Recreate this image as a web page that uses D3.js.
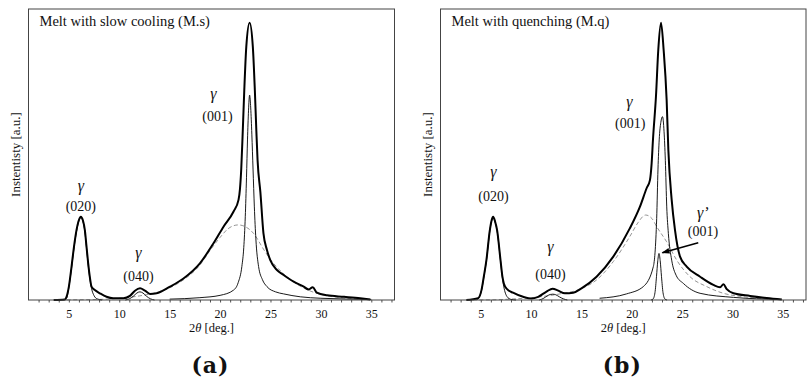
<!DOCTYPE html>
<html><head><meta charset="utf-8">
<script src="https://cdn.jsdelivr.net/npm/d3@7"></script>
<style>body{margin:0;background:#fff}svg{display:block}
text{font-family:"Liberation Serif","Times New Roman","DejaVu Serif",serif}</style>
</head><body>
<svg id="c" width="807" height="392"></svg>
<script>
const xTicks = [5,10,15,20,25,30,35];
const minorTicks = d3.range(2,38,1);

const A_total = [[3.5,0],[4.6,0.2],[4.77,1.1],[5.0,4.5],[5.27,11.5],[5.5,18],[5.76,24],[6.0,27.5],[6.19,28.6],[6.4,27.3],[6.59,24],[6.75,18.5],[6.92,12.6],[7.1,7.5],[7.25,4.6],[7.58,3.4],[8.08,2.3],[8.74,1.1],[9.4,0.6],[10.4,0.6],[11.06,1.4],[11.56,3.2],[12.06,4.0],[12.55,3.2],[13.05,2.1],[13.7,2.3],[15.04,4.6],[16.37,7.4],[18.0,12.6],[19.35,19.5],[20.34,25.2],[21.34,30.4],[21.83,34.4],[21.97,38],[22.1,45],[22.25,58],[22.4,72],[22.6,87],[22.93,95.3],[23.25,87],[23.45,72],[23.6,58],[23.72,48],[24.0,37],[24.3,23],[24.65,17.2],[24.98,13.7],[25.64,10.3],[26.3,8.6],[27.3,6.3],[28.3,4.6],[28.8,3.6],[29.19,4.4],[29.6,2.5],[30.6,1.6],[32.3,1.1],[33.9,0.6],[34.9,0.2]];
const A_peak001 = [[15,0.3],[18,0.8],[20,1.6],[21.34,3.4],[21.8,6],[22.16,11.5],[22.35,18],[22.5,28.6],[22.62,42],[22.72,55],[22.82,65],[22.93,70.4],[23.04,66],[23.15,57],[23.27,45],[23.4,32],[23.55,21],[23.82,11.5],[24.2,7],[24.65,4.6],[25.5,2.8],[26.3,2.1],[27.96,1.1],[30,0.6],[35,0.2]];
const A_amorph = [[3.5,0],[5,0.05],[8,0.2],[10,0.6],[12,1.4],[13.7,2.6],[15,4.2],[16.4,7.0],[18,12],[19,17],[20,21.5],[20.8,24.5],[21.8,25.8],[22.6,25],[23.32,22.9],[24.3,17.5],[24.98,14],[26.3,9],[27.6,5.5],[28.8,3.3],[30,1.9],[32,0.8],[34,0.3],[35,0.1]];
const A_peak020 = [[4.5,0],[4.8,0.8],[5.0,4.3],[5.27,11],[5.5,17.5],[5.76,23.5],[6.0,27.2],[6.19,28.3],[6.4,27],[6.59,23.5],[6.75,18],[6.92,12],[7.1,7],[7.25,4],[7.5,1.5],[7.8,0.4],[8.3,0]];
const A_peak040 = [[10.6,0],[11.0,0.4],[11.4,1.3],[11.75,2.4],[12.05,2.8],[12.35,2.4],[12.7,1.3],[13.1,0.4],[13.5,0]];

const B_total = [[3.57,0],[4.73,0.6],[5.07,3.4],[5.3,8],[5.56,13.7],[5.9,24],[6.05,27],[6.23,28.6],[6.42,27],[6.62,24],[6.96,13.7],[7.15,8],[7.29,5.7],[7.62,3.7],[8.2,2.5],[9.2,1.1],[10.04,0.5],[10.7,1.1],[11.53,2.9],[12.13,3.9],[12.7,3.2],[13.35,2.3],[14.18,2.5],[15.0,4.0],[16.5,8.0],[18.16,14.9],[19.8,24.6],[20.8,32],[21.47,38.4],[21.8,41.2],[21.97,47],[22.1,55],[22.4,70],[22.63,86],[22.9,95.3],[23.16,86],[23.46,68.7],[23.63,51.5],[23.96,34.4],[24.29,24],[24.79,14.9],[25.45,11.5],[26.78,8.0],[28.1,5.2],[28.77,4.4],[29.1,5.4],[29.43,3.7],[30.1,2.3],[31.75,1.4],[33.4,0.7],[34.9,0.2]];
const B_peak001 = [[16.8,0.6],[19.48,2.1],[21.14,4.6],[22.14,11.5],[22.47,28],[22.6,45],[22.72,55],[22.88,61],[23.05,63],[23.2,58],[23.33,48],[23.47,32],[23.63,22.9],[23.96,13.7],[24.4,8.5],[25.12,5.7],[26.78,2.3],[30.1,0.9],[34.7,0.2]];
const B_peakGp = [[21.9,0],[22.1,0.3],[22.3,2.5],[22.45,8],[22.58,13.5],[22.7,16],[22.82,13.5],[22.95,8],[23.1,2.5],[23.3,0.3],[23.5,0]];
const B_amorph = [[3.57,0],[6,0.05],[7.9,0.3],[10.87,1.1],[12.86,2.1],[14.84,3.7],[16.5,6.9],[18.16,13.2],[19.8,21.8],[20.6,26.5],[21.37,29.2],[22.0,28],[22.47,25.2],[23.46,20],[24.46,13.7],[25.78,8],[27.44,4.6],[29.1,2.3],[31.1,1.1],[33.4,0.5],[35,0.1]];
const B_peak020 = [[4.6,0],[5.07,3.2],[5.3,7.8],[5.56,13.5],[5.9,23.8],[6.05,26.8],[6.23,28.4],[6.42,26.8],[6.62,23.8],[6.96,13.5],[7.15,7.5],[7.29,4.5],[7.6,1.2],[8.0,0.2],[8.5,0]];
const B_peak040 = [[10.8,0],[11.2,0.5],[11.6,1.4],[11.9,1.9],[12.15,2.0],[12.45,1.8],[12.8,1.1],[13.2,0.4],[13.6,0]];

const titles = ["Melt with slow cooling (M.s)", "Melt with quenching (M.q)"];
const panelTags = ["(a)", "(b)"];
const labelsA = [["γ",6.19,39.5],["(020)",6.19,32],["γ",11.9,16.2],["(040)",11.9,8.0],["γ",19.35,70.8],["(001)",19.74,63]];
const labelsB = [["γ",6.26,44.1],["(020)",6.26,35.5],["γ",11.92,18.3],["(040)",11.92,8.9],["γ",19.77,68.1],["(001)",19.84,60.5],["γ’",27.06,29.9],["(001)",27.06,23.5]];
const arrowB = [[26.6,19.7],[23.03,16.25]];

const svg = d3.select("#c");
svg.append("defs").append("marker").attr("id","ah").attr("viewBox","0 0 10 10")
  .attr("refX",9).attr("refY",5).attr("markerWidth",5).attr("markerHeight",5).attr("orient","auto")
  .append("path").attr("d","M0,1.5L10,5L0,8.5Z").attr("fill","#000");

const topY = 9, bottomY = 300;
const y = d3.scaleLinear().domain([0,100]).range([bottomY, topY]);

function panel(x0, x1, cfg) {
  const x = d3.scaleLinear().domain([1, 37.3]).range([x0, x1]);
  const g = svg.append("g");
  const line = d3.line().x(d=>x(d[0])).y(d=>y(d[1])).curve(d3.curveMonotoneX);
  const ax = g.append("g").attr("transform",`translate(0,${bottomY})`)
    .call(d3.axisBottom(x).tickValues(minorTicks).tickSize(2.5).tickFormat(""));
  ax.select(".domain").remove();
  ax.selectAll("line").attr("stroke","#222").attr("stroke-width",0.8);
  const ax2 = g.append("g").attr("transform",`translate(0,${bottomY})`)
    .call(d3.axisBottom(x).tickValues(xTicks).tickSize(0).tickPadding(9));
  ax2.attr("font-family",null);
  ax2.select(".domain").remove();
  ax2.selectAll("text").style("font-size","12px").attr("fill","#111");
  g.append("path").datum(cfg.amorph).attr("d",line).attr("fill","none").attr("stroke","#888").attr("stroke-width",0.9).attr("stroke-dasharray","4,2.5");
  cfg.thin.forEach(s=>g.append("path").datum(s).attr("d",line).attr("fill","none").attr("stroke","#000").attr("stroke-width",0.9));
  g.append("path").datum(cfg.total).attr("d",line).attr("fill","none").attr("stroke","#000").attr("stroke-width",2);
  g.append("rect").attr("x",x0).attr("y",topY).attr("width",x1-x0).attr("height",bottomY-topY)
    .attr("fill","none").attr("stroke","#444").attr("stroke-width",1);
  cfg.labels.forEach(l=>{
    const isG = l[0].startsWith("γ");
    g.append("text").attr("x",x(l[1])).attr("y",y(l[2])).attr("text-anchor","middle")
      .attr("dominant-baseline","central")
      .style("font-size", isG?"16px":"14px")
      .style("font-style", isG?"italic":"normal").attr("fill","#111").text(l[0]);
  });
  if (cfg.arrow) {
    g.append("line").attr("x1",x(cfg.arrow[0][0])).attr("y1",y(cfg.arrow[0][1]))
      .attr("x2",x(cfg.arrow[1][0])).attr("y2",y(cfg.arrow[1][1]))
      .attr("stroke","#000").attr("stroke-width",1.6).attr("marker-end","url(#ah)");
  }
  g.append("text").attr("x",x0+11).attr("y",topY+17).style("font-size","14.5px").attr("fill","#111").text(cfg.title);
  g.append("text").attr("transform",`translate(${x0-13},${(topY+bottomY)/2}) rotate(-90)`)
    .attr("text-anchor","middle").attr("dominant-baseline","central")
    .style("font-size","13px").attr("fill","#111").text("Instentisty [a.u.]");
  const xl = g.append("text").attr("x",(x0+x1)/2).attr("y",332).attr("text-anchor","middle")
    .style("font-size","12.5px").attr("fill","#111");
  xl.append("tspan").text("2");
  xl.append("tspan").style("font-style","italic").text("θ");
  xl.append("tspan").text(" [deg.]");
  g.append("text").attr("x",(x0+x1)/2 - 1).attr("y",373).attr("text-anchor","middle")
    .style("font-family","'DejaVu Serif',serif").style("font-weight","bold").style("font-size","22px")
    .style("letter-spacing","1px").attr("fill","#111").text(cfg.tag);
}

panel(28.5, 394.5, {total:A_total, thin:[A_peak001,A_peak020,A_peak040], amorph:A_amorph, labels:labelsA, title:titles[0], tag:panelTags[0]});
panel(440.5, 806, {total:B_total, thin:[B_peak001,B_peak020,B_peak040,B_peakGp], amorph:B_amorph, labels:labelsB, title:titles[1], tag:panelTags[1], arrow:arrowB});
</script>
</body></html>
